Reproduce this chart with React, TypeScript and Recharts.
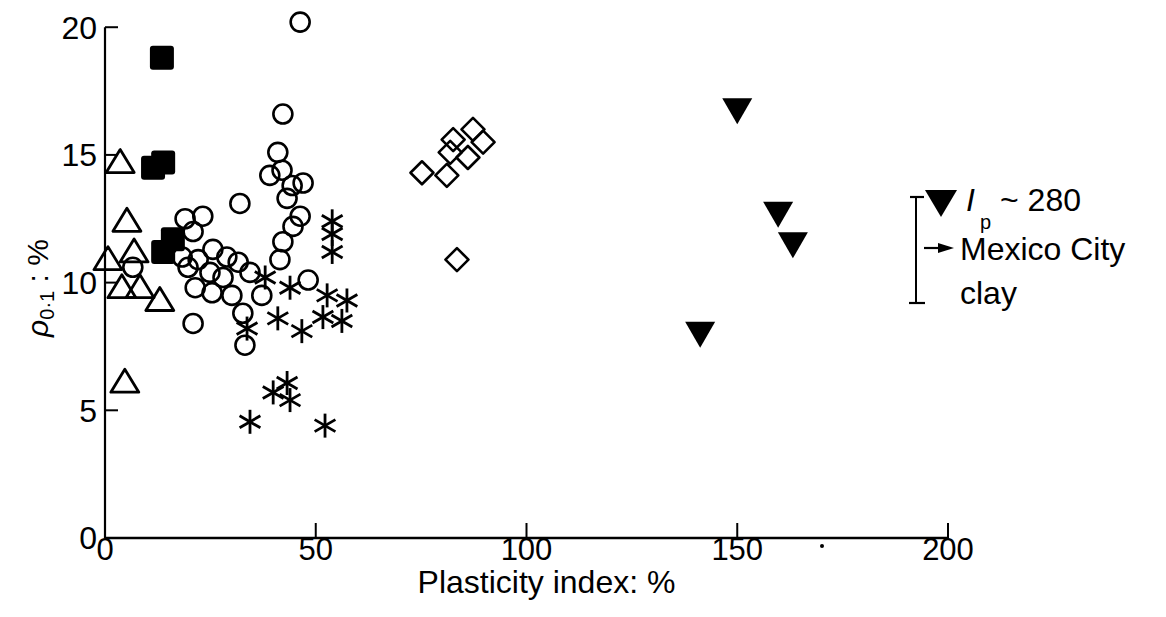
import React from "react";
import {
  ScatterChart,
  Scatter,
  XAxis,
  YAxis,
  ReferenceLine,
} from "recharts";

// Plasticity index (%) vs rho_0.1 (%)
const filledSquares = [
  { x: 13.5, y: 18.8 },
  { x: 11.4, y: 14.5 },
  { x: 13.8, y: 14.7 },
  { x: 13.8, y: 11.2 },
  { x: 16.1, y: 11.7 },
];

const openTriangles = [
  { x: 3.6, y: 14.7 },
  { x: 5.2, y: 12.4 },
  { x: 0.7, y: 10.9 },
  { x: 6.9, y: 11.2 },
  { x: 4.0, y: 9.8 },
  { x: 8.3, y: 9.8 },
  { x: 13.0, y: 9.3 },
  { x: 4.7, y: 6.1 },
];

const openCircles = [
  { x: 46.3, y: 20.2 },
  { x: 42.2, y: 16.6 },
  { x: 41.0, y: 15.1 },
  { x: 42.0, y: 14.4 },
  { x: 39.1, y: 14.2 },
  { x: 47.0, y: 13.9 },
  { x: 44.4, y: 13.8 },
  { x: 43.2, y: 13.3 },
  { x: 46.3, y: 12.6 },
  { x: 44.6, y: 12.2 },
  { x: 42.2, y: 11.6 },
  { x: 41.5, y: 10.9 },
  { x: 48.2, y: 10.1 },
  { x: 37.2, y: 9.5 },
  { x: 32.0, y: 13.1 },
  { x: 19.0, y: 12.5 },
  { x: 23.2, y: 12.6 },
  { x: 20.9, y: 12.0 },
  { x: 18.3, y: 11.0 },
  { x: 25.6, y: 11.3 },
  { x: 28.9, y: 11.0 },
  { x: 31.6, y: 10.8 },
  { x: 34.4, y: 10.4 },
  { x: 22.1, y: 10.9 },
  { x: 24.9, y: 10.4 },
  { x: 28.0, y: 10.2 },
  { x: 19.7, y: 10.6 },
  { x: 21.4, y: 9.8 },
  { x: 25.4, y: 9.6 },
  { x: 30.1, y: 9.5 },
  { x: 32.7, y: 8.8 },
  { x: 20.9, y: 8.4 },
  { x: 33.2, y: 7.55 },
  { x: 6.6, y: 10.6 },
];

const asterisks = [
  { x: 53.9, y: 12.4 },
  { x: 53.9, y: 11.9 },
  { x: 53.9, y: 11.2 },
  { x: 38.0, y: 10.2 },
  { x: 43.9, y: 9.8 },
  { x: 52.7, y: 9.5 },
  { x: 57.4, y: 9.3 },
  { x: 41.0, y: 8.6 },
  { x: 51.7, y: 8.65 },
  { x: 56.2, y: 8.5 },
  { x: 46.7, y: 8.1 },
  { x: 33.7, y: 8.2 },
  { x: 43.2, y: 6.07 },
  { x: 39.9, y: 5.7 },
  { x: 43.9, y: 5.4 },
  { x: 34.4, y: 4.55 },
  { x: 52.2, y: 4.4 },
];

const openDiamonds = [
  { x: 75.2, y: 14.3 },
  { x: 81.1, y: 14.2 },
  { x: 82.6, y: 15.6 },
  { x: 87.3, y: 16.0 },
  { x: 81.9, y: 15.1 },
  { x: 86.1, y: 14.9 },
  { x: 89.7, y: 15.5 },
  { x: 83.5, y: 10.9 },
];

const filledDownTriangles = [
  { x: 150.0, y: 16.75 },
  { x: 159.7, y: 12.7 },
  { x: 163.2, y: 11.5 },
  { x: 141.2, y: 8.0 },
];

const xTicks = [0, 50, 100, 150, 200];
const yTicks = [0, 5, 10, 15, 20];

const INK = "#000";
const FONT = "'Liberation Sans', Arial, Helvetica, sans-serif";

const SquareShape = (p: any) => (
  <rect x={p.cx - 12} y={p.cy - 12} width={24} height={24} rx={3} fill={INK} />
);

const CircleShape = (p: any) => (
  <circle cx={p.cx} cy={p.cy} r={9.5} fill="none" stroke={INK} strokeWidth={2.6} />
);

const TriangleShape = (p: any) => (
  <polygon
    points={`${p.cx},${p.cy - 13} ${p.cx - 14},${p.cy + 10} ${p.cx + 14},${p.cy + 10}`}
    fill="none"
    stroke={INK}
    strokeWidth={2.8}
    strokeLinejoin="round"
  />
);

const DiamondShape = (p: any) => (
  <polygon
    points={`${p.cx},${p.cy - 11.5} ${p.cx + 11.5},${p.cy} ${p.cx},${p.cy + 11.5} ${p.cx - 11.5},${p.cy}`}
    fill="none"
    stroke={INK}
    strokeWidth={2.6}
    strokeLinejoin="round"
  />
);

const DownTriangleShape = (p: any) => (
  <polygon
    points={`${p.cx - 15},${p.cy - 12} ${p.cx + 15},${p.cy - 12} ${p.cx},${p.cy + 14}`}
    fill={INK}
  />
);

const AsteriskShape = (p: any) => {
  const r = 12;
  const dx = r * Math.cos(Math.PI / 6);
  const dy = r * Math.sin(Math.PI / 6);
  return (
    <g stroke={INK} strokeWidth={2.8} strokeLinecap="butt">
      <line x1={p.cx} y1={p.cy - r} x2={p.cx} y2={p.cy + r} />
      <line x1={p.cx - dx} y1={p.cy - dy} x2={p.cx + dx} y2={p.cy + dy} />
      <line x1={p.cx - dx} y1={p.cy + dy} x2={p.cx + dx} y2={p.cy - dy} />
    </g>
  );
};

export default function App() {
  return (
    <div style={{ position: "relative", width: 1150, height: 600, background: "#fff" }}>
      <ScatterChart
        width={1150}
        height={600}
        margin={{ top: 9, right: 210, bottom: 10, left: 37 }}
      >
        <XAxis
          type="number"
          dataKey="x"
          domain={[0, 200]}
          ticks={xTicks}
          height={60}
          tickSize={-15}
          tickMargin={15}
          axisLine={{ stroke: INK, strokeWidth: 2.5 }}
          tickLine={{ stroke: INK, strokeWidth: 2 }}
          tick={{ fill: INK, fontSize: 31, fontFamily: FONT }}
          label={{
            value: "Plasticity index: %",
            position: "insideBottom",
            offset: 5,
            dx: 20,
            fill: INK,
            fontSize: 32,
            fontFamily: FONT,
          }}
        />
        <YAxis
          type="number"
          dataKey="y"
          domain={[0, 20.4]}
          ticks={yTicks}
          width={60}
          tickSize={-13}
          tickMargin={21}
          axisLine={false}
          tickLine={{ stroke: INK, strokeWidth: 2 }}
          tick={{ fill: INK, fontSize: 32, fontFamily: FONT }}
        />
        <ReferenceLine
          segment={[
            { x: 0, y: 0 },
            { x: 0, y: 20 },
          ]}
          stroke={INK}
          strokeWidth={2.2}
        />
        <Scatter data={openCircles} shape={CircleShape} isAnimationActive={false} />
        <Scatter data={openTriangles} shape={TriangleShape} isAnimationActive={false} />
        <Scatter data={filledSquares} shape={SquareShape} isAnimationActive={false} />
        <Scatter data={asterisks} shape={AsteriskShape} isAnimationActive={false} />
        <Scatter data={openDiamonds} shape={DiamondShape} isAnimationActive={false} />
        <Scatter data={filledDownTriangles} shape={DownTriangleShape} isAnimationActive={false} />
      </ScatterChart>

      <svg
        width={1150}
        height={600}
        style={{ position: "absolute", left: 0, top: 0, pointerEvents: "none" }}
        fontFamily={FONT}
      >
        {/* y axis title */}
        <text transform="translate(40,280) rotate(-90)" textAnchor="middle" fill={INK} fontSize={30}>
          <tspan fontStyle="italic">ρ</tspan>
          <tspan fontSize={20} dy={6}>0·1</tspan>
          <tspan dy={-6}> : %</tspan>
        </text>

        {/* Mexico City clay note */}
        <polygon points="917,182 949,182 933,209" fill={INK} />
        <line x1={908} y1={189} x2={908} y2={295} stroke={INK} strokeWidth={2} />
        <line x1={902} y1={189} x2={916} y2={189} stroke={INK} strokeWidth={2.2} />
        <line x1={901} y1={295} x2={917} y2={295} stroke={INK} strokeWidth={2.2} />
        <line x1={916} y1={240} x2={934} y2={240} stroke={INK} strokeWidth={2.2} />
        <polygon points="930,235 946,240 930,245" fill={INK} />
        <text x={958} y={203} fill={INK} fontSize={32} fontStyle="italic">I</text>
        <text x={972} y={221} fill={INK} fontSize={20}>p</text>
        <text x={992} y={203} fill={INK} fontSize={32}>~ 280</text>
        <text x={952} y={252} fill={INK} fontSize={32}>Mexico City</text>
        <text x={952} y={296} fill={INK} fontSize={32}>clay</text>

        <circle cx={814} cy={538} r={2} fill={INK} />
      </svg>
    </div>
  );
}
